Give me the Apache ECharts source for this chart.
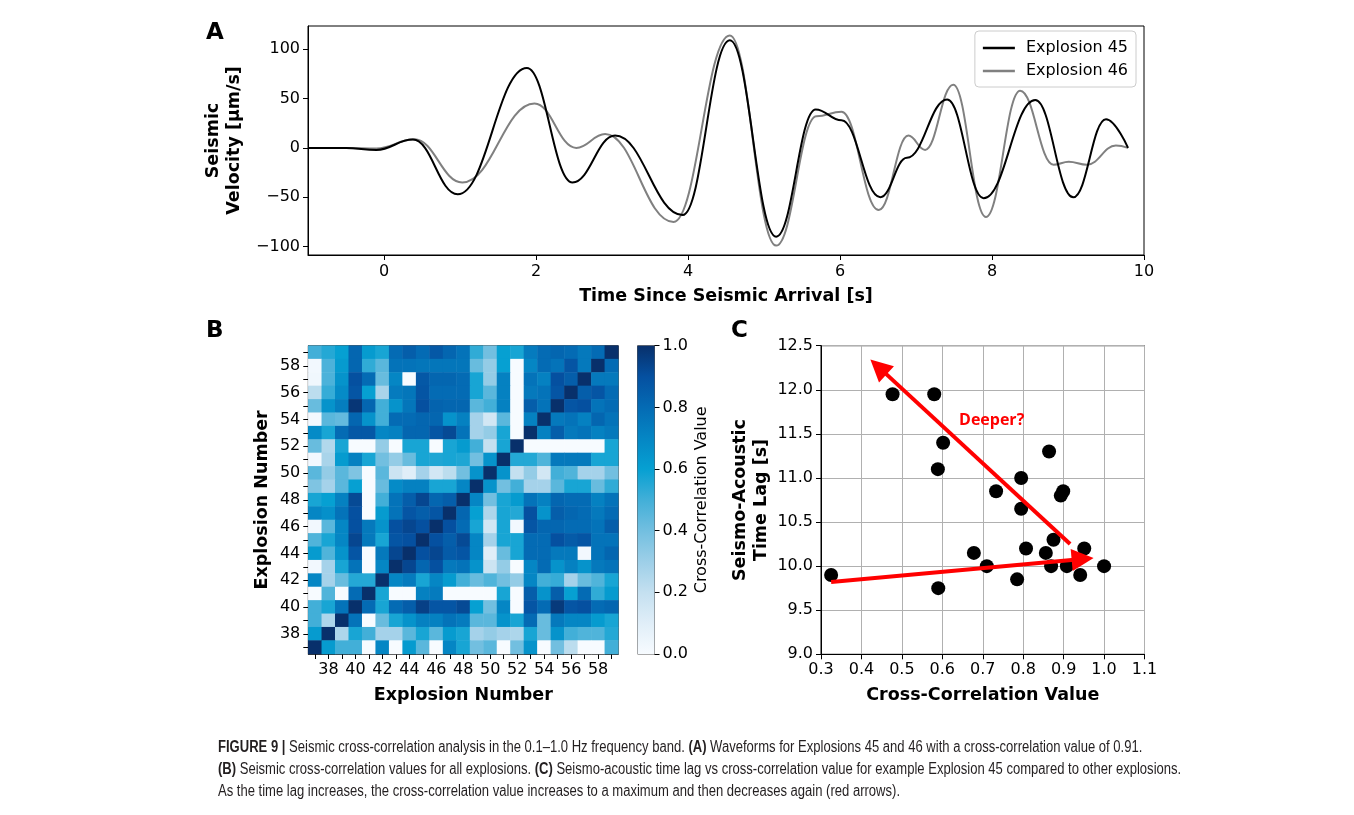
<!DOCTYPE html>
<html><head><meta charset="utf-8">
<script src="https://cdn.jsdelivr.net/npm/echarts@6/dist/echarts.min.js"></script>
<style>html,body{margin:0;padding:0;background:#fff}#c{width:1354px;height:815px}</style>
</head><body><div id="c"></div><script>
// ---------- Panel A: waveforms, turning points [time s, velocity um/s] ----------
const wave45 = [[-1,0],[-0.5,0],[-0.1,-2],[0.38,8.4],[0.97,-47],[1.88,81],[2.48,-35],[3.04,12.5],[3.93,-68],[4.55,109],[5.16,-90],[5.68,39],[6.02,28],[6.53,-50],[6.88,-10],[7.41,49],[7.89,-51],[8.57,48.5],[9.07,-50],[9.5,29],[9.79,0]];
const wave46 = [[-1,0],[-0.5,0],[-0.1,-0.5],[0.4,8.7],[1.03,-35],[1.98,45],[2.53,0],[2.91,14],[3.81,-75],[4.55,114],[5.16,-99],[5.69,32],[6.02,36.7],[6.51,-63],[6.9,12.5],[7.12,-2],[7.49,64],[7.92,-70],[8.37,58],[8.81,-17],[9.01,-14],[9.25,-17],[9.63,2.4],[9.79,0]];
const timeTicks = [0,2,4,6,8,10];
const velTicks = [-100,-50,0,50,100];

// ---------- Panel B: cross-correlation matrix ----------
const explosions = ['37','38','39','40','41','42','43','44','45','46','47','48','49','50','51','52','53','54','55','56','57','58','59'];
// rows listed from Explosion 59 (top) down to 37 (bottom); columns 37..59
const corrRows = [
 [0.5,0.55,0.6,0.82,0.62,0.57,0.8,0.85,0.8,0.87,0.82,0.77,0.53,0.4,0.6,0.57,0.74,0.8,0.82,0.8,0.75,0.8,1.0],
 [0.02,0.48,0.62,0.82,0.53,0.45,0.77,0.77,0.76,0.76,0.76,0.76,0.42,0.32,0.6,0.0,0.7,0.8,0.77,0.88,0.75,1.0,0.8],
 [0.03,0.48,0.65,0.9,0.8,0.42,0.7,0.0,0.87,0.82,0.82,0.8,0.57,0.32,0.72,0.0,0.77,0.72,0.9,0.85,1.0,0.75,0.75],
 [0.22,0.52,0.68,0.88,0.6,0.27,0.74,0.76,0.88,0.8,0.8,0.8,0.57,0.45,0.72,0.0,0.75,0.77,0.88,1.0,0.85,0.88,0.8],
 [0.42,0.65,0.73,0.98,0.82,0.5,0.65,0.76,0.9,0.83,0.82,0.82,0.45,0.5,0.72,0.0,0.85,0.77,1.0,0.88,0.9,0.77,0.8],
 [0.02,0.45,0.43,0.82,0.65,0.5,0.8,0.8,0.82,0.82,0.65,0.72,0.28,0.15,0.45,0.0,0.72,1.0,0.75,0.77,0.72,0.82,0.77],
 [0.68,0.57,0.8,0.87,0.87,0.7,0.72,0.82,0.82,0.88,0.92,0.77,0.28,0.32,0.57,0.0,1.0,0.72,0.85,0.75,0.77,0.72,0.75],
 [0.42,0.25,0.57,0.0,0.0,0.32,0.0,0.57,0.57,0.0,0.57,0.62,0.5,0.2,0.57,1.0,0.0,0.0,0.0,0.0,0.0,0.0,0.57],
 [0.02,0.27,0.62,0.72,0.57,0.4,0.32,0.42,0.57,0.56,0.57,0.56,0.4,0.65,1.0,0.55,0.55,0.47,0.75,0.75,0.75,0.57,0.57],
 [0.45,0.32,0.45,0.37,0.0,0.45,0.17,0.1,0.28,0.15,0.22,0.4,0.65,1.0,0.65,0.2,0.32,0.15,0.5,0.47,0.28,0.28,0.4],
 [0.37,0.28,0.45,0.6,0.0,0.42,0.68,0.72,0.72,0.57,0.57,0.7,1.0,0.65,0.4,0.5,0.28,0.28,0.45,0.57,0.57,0.42,0.53],
 [0.57,0.6,0.72,0.92,0.0,0.5,0.77,0.85,0.93,0.82,0.85,1.0,0.7,0.4,0.57,0.62,0.77,0.72,0.82,0.8,0.8,0.72,0.77],
 [0.7,0.66,0.77,0.9,0.0,0.62,0.77,0.88,0.85,0.88,1.0,0.82,0.6,0.26,0.57,0.55,0.9,0.65,0.85,0.82,0.8,0.75,0.8],
 [0.02,0.45,0.7,0.9,0.75,0.65,0.9,0.93,0.9,1.0,0.9,0.8,0.57,0.15,0.57,0.02,0.88,0.82,0.82,0.8,0.8,0.77,0.85],
 [0.47,0.57,0.7,0.93,0.75,0.57,0.88,0.9,1.0,0.9,0.85,0.92,0.7,0.28,0.57,0.57,0.8,0.8,0.9,0.86,0.88,0.77,0.77],
 [0.62,0.47,0.65,0.88,0.0,0.75,0.93,1.0,0.9,0.93,0.86,0.88,0.7,0.1,0.42,0.57,0.8,0.8,0.75,0.75,0.02,0.77,0.82],
 [0.02,0.28,0.57,0.77,0.0,0.7,1.0,0.93,0.82,0.9,0.75,0.77,0.65,0.17,0.32,0.0,0.7,0.8,0.65,0.72,0.65,0.75,0.77],
 [0.7,0.28,0.42,0.55,0.55,1.0,0.7,0.74,0.57,0.7,0.62,0.5,0.42,0.47,0.4,0.32,0.7,0.5,0.52,0.28,0.42,0.47,0.57],
 [0.0,0.47,0.0,0.8,1.0,0.57,0.0,0.0,0.72,0.74,0.0,0.0,0.0,0.0,0.57,0.0,0.85,0.65,0.85,0.6,0.8,0.53,0.62],
 [0.5,0.57,0.77,1.0,0.8,0.57,0.8,0.85,0.95,0.88,0.88,0.92,0.6,0.4,0.7,0.0,0.88,0.8,0.97,0.88,0.9,0.8,0.82],
 [0.5,0.26,1.0,0.77,0.0,0.42,0.57,0.65,0.72,0.72,0.77,0.74,0.45,0.45,0.65,0.57,0.8,0.42,0.75,0.7,0.7,0.62,0.57],
 [0.62,1.0,0.26,0.57,0.5,0.28,0.28,0.45,0.57,0.45,0.62,0.57,0.28,0.32,0.28,0.26,0.57,0.42,0.65,0.5,0.47,0.47,0.55],
 [1.0,0.62,0.5,0.5,0.0,0.7,0.0,0.62,0.45,0.0,0.7,0.57,0.4,0.45,0.0,0.4,0.65,0.0,0.4,0.22,0.0,0.0,0.5]
];
const colorbarTicks = [0,0.2,0.4,0.6,0.8,1.0];
const cmap = ['#f7fbff','#e0eef8','#c4e0f0','#9dcfe8','#72bfe0','#42afd8','#06a0d2','#0586c4','#046bb4','#0550a0','#08306b'];

// ---------- Panel C: Explosion 45 vs other explosions ----------
const corr45 = [0.325,0.477,0.580,0.602,0.589,0.590,0.678,0.710,0.733,0.785,0.795,0.795,0.807,0.856,0.864,0.875,0.869,0.893,0.899,0.908,0.941,0.951,1.0];
const lag45  = [9.90,11.95,11.95,11.40,11.10,9.75,10.15,10.0,10.85,9.85,11.0,10.65,10.20,10.15,11.30,10.30,10.0,10.80,10.85,10.0,9.90,10.20,10.0];
const arrowDeeper = [[0.916,10.25],[0.442,12.26]];
const arrowRise = [[0.325,9.82],[0.947,10.08]];
const deeperLabel = [[0.722,11.65]];

// ---------- build ----------
const heatData = [];
corrRows.forEach((row, r) => row.forEach((v, c) => heatData.push([c, corrRows.length - 1 - r, v])));
const scatter45 = corr45.map((x, i) => [x, lag45[i]]);
const minus = v => (v < 0 ? '\u2212' + Math.abs(v) : String(v));

const F = 'DejaVu Sans';
const tickLbl = {fontFamily: F, fontSize: 16, color: '#000'};
const titleTxt = {fontFamily: F, fontSize: 17.5, fontWeight: 'bold', color: '#000'};
const blackLine = {onZero: false, lineStyle: {color: '#000', width: 1}};
const tick5 = {show: true, length: 5, lineStyle: {color: '#000', width: 1}};
const capFont = '16px "Liberation Sans", Arial, sans-serif';
const capBold = 'bold 16px "Liberation Sans", Arial, sans-serif';

const chart = echarts.init(document.getElementById('c'), null, {renderer: 'canvas'});
chart.setOption({
  backgroundColor: '#fff',
  animation: false,
  grid: [
    {left: 308, top: 26, width: 836, height: 229, show: true, borderColor: '#000', borderWidth: 1, backgroundColor: 'transparent'},
    {left: 308.3, top: 345.7, width: 310, height: 308.3, show: true, borderColor: '#333', borderWidth: 1, backgroundColor: 'transparent'},
    {left: 637.5, top: 345.7, width: 17, height: 308.3, show: true, borderColor: '#555', borderWidth: 1, backgroundColor: 'transparent'},
    {left: 821, top: 345.7, width: 323.5, height: 308.6, show: true, borderColor: '#000', borderWidth: 1, backgroundColor: 'transparent'}
  ],
  xAxis: [
    {gridIndex: 0, type: 'value', min: -1, max: 10,
     axisLine: blackLine, axisTick: Object.assign({customValues: timeTicks}, tick5),
     axisLabel: Object.assign({customValues: timeTicks, margin: 9, formatter: minus}, tickLbl),
     splitLine: {show: false},
     name: 'Time Since Seismic Arrival [s]', nameLocation: 'middle', nameGap: 32, nameTextStyle: titleTxt},
    {gridIndex: 1, type: 'category', data: explosions,
     axisLine: {lineStyle: {color: '#333'}},
     axisTick: Object.assign({interval: 0, alignWithLabel: true}, tick5),
     axisLabel: Object.assign({interval: (i, v) => (+v) % 2 === 0, margin: 8}, tickLbl),
     name: 'Explosion Number', nameLocation: 'middle', nameGap: 32, nameTextStyle: titleTxt},
    {gridIndex: 2, type: 'category', data: [''], show: false},
    {gridIndex: 3, type: 'value', min: 0.3, max: 1.1, interval: 0.1,
     axisLine: blackLine, axisTick: tick5,
     axisLabel: Object.assign({margin: 8, formatter: v => v.toFixed(1)}, tickLbl),
     splitLine: {show: true, lineStyle: {color: '#b0b0b0', width: 1}},
     name: 'Cross-Correlation Value', nameLocation: 'middle', nameGap: 32, nameTextStyle: titleTxt}
  ],
  yAxis: [
    {gridIndex: 0, type: 'value', min: -108.5, max: 123.5,
     axisLine: Object.assign({show: true}, blackLine), axisTick: Object.assign({customValues: velTicks}, tick5),
     axisLabel: Object.assign({customValues: velTicks, margin: 8, formatter: minus}, tickLbl),
     splitLine: {show: false},
     name: 'Seismic\nVelocity [\u03bcm/s]', nameLocation: 'middle', nameGap: 51, nameRotate: 90,
     nameTextStyle: Object.assign({lineHeight: 21}, titleTxt)},
    {gridIndex: 1, type: 'category', data: explosions,
     axisLine: {show: true, lineStyle: {color: '#333'}},
     axisTick: Object.assign({interval: 0, alignWithLabel: true}, tick5),
     axisLabel: Object.assign({interval: (i, v) => (+v) % 2 === 0, margin: 8}, tickLbl),
     name: 'Explosion Number', nameLocation: 'middle', nameGap: 37, nameRotate: 90, nameTextStyle: titleTxt},
    {gridIndex: 2, type: 'value', min: 0, max: 1, interval: 0.2, position: 'right',
     axisLine: {show: true, lineStyle: {color: '#555'}}, axisTick: tick5,
     axisLabel: Object.assign({margin: 8, formatter: v => v.toFixed(1)}, tickLbl),
     splitLine: {show: false},
     name: 'Cross-Correlation Value', nameLocation: 'middle', nameGap: 39, nameRotate: 90,
     nameTextStyle: {fontFamily: F, fontSize: 16, color: '#000'}},
    {gridIndex: 3, type: 'value', min: 9.0, max: 12.5, interval: 0.5,
     axisLine: Object.assign({show: true}, blackLine), axisTick: tick5,
     axisLabel: Object.assign({margin: 8, formatter: v => v.toFixed(1)}, tickLbl),
     splitLine: {show: true, lineStyle: {color: '#b0b0b0', width: 1}},
     name: 'Seismo-Acoustic\nTime Lag [s]', nameLocation: 'middle', nameGap: 49, nameRotate: 90,
     nameTextStyle: Object.assign({lineHeight: 21}, titleTxt)}
  ],
  visualMap: {type: 'continuous', show: false, min: 0, max: 1, seriesIndex: 2, inRange: {color: cmap}},
  legend: {
    data: [{name: 'Explosion 45', icon: 'rect'}, {name: 'Explosion 46', icon: 'rect'}],
    orient: 'vertical', right: 218, top: 31,
    itemWidth: 32, itemHeight: 2.5, itemGap: 5, padding: [8, 8, 7, 8],
    borderColor: '#cccccc', borderWidth: 1, borderRadius: 4, backgroundColor: '#fff',
    textStyle: {fontFamily: F, fontSize: 16, color: '#000', padding: [0, 0, 0, 6], lineHeight: 18}
  },
  series: [
    {name: 'Explosion 45', type: 'line', xAxisIndex: 0, yAxisIndex: 0, data: wave45,
     smooth: 0.42, smoothMonotone: 'x',
     showSymbol: false, symbol: 'none', lineStyle: {color: '#000', width: 2}, itemStyle: {color: '#000'}, z: 3},
    {name: 'Explosion 46', type: 'line', xAxisIndex: 0, yAxisIndex: 0, data: wave46,
     smooth: 0.42, smoothMonotone: 'x',
     showSymbol: false, symbol: 'none', lineStyle: {color: '#808080', width: 2}, itemStyle: {color: '#808080'}, z: 2},
    {type: 'heatmap', xAxisIndex: 1, yAxisIndex: 1, data: heatData, emphasis: {disabled: true}, progressive: 0},
    {type: 'bar', xAxisIndex: 2, yAxisIndex: 2, data: [1], barWidth: '100%', silent: true,
     itemStyle: {color: new echarts.graphic.LinearGradient(0, 1, 0, 0, cmap.map((c, i) => ({offset: i / (cmap.length - 1), color: c})))}},
    {type: 'scatter', xAxisIndex: 3, yAxisIndex: 3, data: scatter45, symbolSize: 14,
     itemStyle: {color: '#000', opacity: 1}, z: 3},
    {type: 'lines', coordinateSystem: 'cartesian2d', xAxisIndex: 3, yAxisIndex: 3, z: 4,
     data: [{coords: arrowDeeper}, {coords: arrowRise}],
     symbol: ['none', 'triangle'], symbolSize: 22,
     lineStyle: {color: '#ff0000', width: 4, opacity: 1}},
    {type: 'scatter', xAxisIndex: 3, yAxisIndex: 3, data: deeperLabel, symbolSize: 0, z: 5,
     itemStyle: {opacity: 1},
     label: {show: true, position: 'inside', formatter: 'Deeper?', color: '#ff0000', fontFamily: 'Open Sans', fontWeight: 'bold', fontSize: 16}}
  ],
  graphic: [
    {type: 'text', left: 206, top: 22, style: {text: 'A', font: 'bold 23px "DejaVu Sans"', fill: '#000'}},
    {type: 'text', left: 206, top: 320, style: {text: 'B', font: 'bold 23px "DejaVu Sans"', fill: '#000'}},
    {type: 'text', left: 731, top: 320, style: {text: 'C', font: 'bold 23px "DejaVu Sans"', fill: '#000'}},
    {type: 'text', x: 218, y: 748, scaleX: 0.815, style: {
      text: '{b|FIGURE 9 |} Seismic cross-correlation analysis in the 0.1\u20131.0 Hz frequency band. {b|(A)} Waveforms for Explosions 45 and 46 with a cross-correlation value of 0.91.',
      font: capFont, fill: '#231f20', verticalAlign: 'middle', rich: {b: {font: capBold, fill: '#231f20'}}}},
    {type: 'text', x: 218, y: 770, scaleX: 0.815, style: {
      text: '{b|(B)} Seismic cross-correlation values for all explosions. {b|(C)} Seismo-acoustic time lag vs cross-correlation value for example Explosion 45 compared to other explosions.',
      font: capFont, fill: '#231f20', verticalAlign: 'middle', rich: {b: {font: capBold, fill: '#231f20'}}}},
    {type: 'text', x: 218, y: 792, scaleX: 0.815, style: {
      text: 'As the time lag increases, the cross-correlation value increases to a maximum and then decreases again (red arrows).',
      font: capFont, fill: '#231f20', verticalAlign: 'middle'}}
  ]
});
</script></body></html>
